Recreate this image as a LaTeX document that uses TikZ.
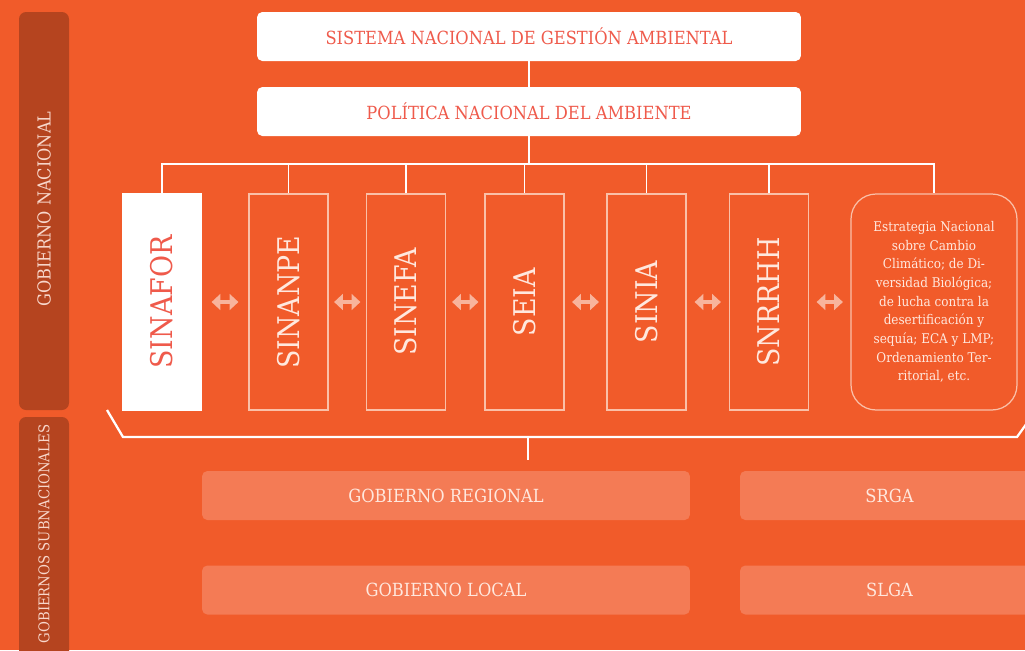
\documentclass[tikz,border=0pt]{standalone}
\usepackage{fontspec}
\setmainfont{DejaVu Serif Condensed}
\usepackage{tikz}
\usetikzlibrary{arrows.meta}

\definecolor{fondo}{HTML}{F15B2A}
\definecolor{oscuro}{HTML}{B5441F}
\definecolor{claro}{HTML}{F47B55}
\definecolor{titulo}{HTML}{EF5A4B}
\definecolor{flechita}{HTML}{F8B49C}
\definecolor{borde}{HTML}{FAC0A8}
\definecolor{letra}{HTML}{FFE8DE}

\begin{document}
\begin{tikzpicture}[x=0.02cm,y=-0.02cm,
    cabeza/.style={fill=white,rounded corners=3pt,minimum width=10.88cm,minimum height=0.98cm,
      text=titulo,font=\fontsize{10.3}{12}\selectfont},
    sistema/.style={draw=borde,line width=0.7pt,minimum width=1.58cm,minimum height=4.32cm,
      text=letra,font=\fontsize{17}{20}\selectfont},
    sub/.style={fill=claro,rounded corners=3pt,minimum height=0.98cm,
      text=letra,font=\fontsize{10.3}{12}\selectfont},
    lado/.style={text=letra!90!oscuro,font=\fontsize{10.2}{12}\selectfont,rotate=90},
    linea/.style={white,line width=1.1pt},
    flecha/.style={flechita,line width=2.8pt,{Triangle[length=5pt,width=9pt]}-{Triangle[length=5pt,width=9pt]}}]
  \useasboundingbox (0,0) rectangle (1025,650);
  \fill[fondo] (0,0) rectangle (1025,650);

  % bandas laterales
  \fill[oscuro,rounded corners=4pt] (19,12) rectangle (69,410);
  \fill[oscuro,rounded corners=4pt] (19,417) rectangle (69,670);
  \node[lado] (gn) at (44,209) {GOBIERNO NACIONAL};
  \node[lado,font=\fontsize{8.4}{10}\selectfont] (gs) at (44,534) {GOBIERNOS SUBNACIONALES};

  % nivel nacional
  \node[cabeza] (sna) at (529,36.5) {SISTEMA NACIONAL DE GESTIÓN AMBIENTAL};
  \node[cabeza] (pna) at (529,111.5) {POLÍTICA NACIONAL DEL AMBIENTE};
  \draw[linea] (sna.south) -- (pna.north);
  \draw[linea] (pna.south) -- ++(0,29);

  \node[sistema,fill=white,draw=white,text=titulo,minimum width=1.56cm] (fo) at (162,302) {\rotatebox{90}{SINAFOR}};
  \node[sistema] (pe) at (288.5,302) {\rotatebox{90}{SINANPE}};
  \node[sistema] (fa) at (406,302) {\rotatebox{90}{SINEFA}};
  \node[sistema] (ei) at (524.5,302) {\rotatebox{90}{SEIA}};
  \node[sistema] (ia) at (646.5,302) {\rotatebox{90}{SINIA}};
  \node[sistema] (rh) at (769,302) {\rotatebox{90}{SNRRHH}};
  \node[sistema,rounded corners=0.5cm,minimum width=3.32cm,align=center,
    font=\fontsize{7.6}{10.6}\selectfont] (est) at (934,302)
    {Estrategia Nacional\\sobre Cambio\\Climático; de Di-\\versidad Biológica;\\de lucha contra la\\desertificación y\\sequía; ECA y LMP;\\Ordenamiento Ter-\\ritorial, etc.};

  \draw[linea] (fo.north) -- ++(0,-29) -| (est.north);
  \foreach \s in {pe,fa,ei,ia,rh}
    \draw[linea] (\s.north) -- ++(0,-29);

  \foreach \a/\b/\c in {fo/pe/0.2cm,pe/fa/0.11cm,fa/ei/0.12cm,ei/ia/0.15cm,ia/rh/0.16cm,rh/est/0.15cm}
    \draw[flecha,shorten <=\c,shorten >=\c] (\a.east) -- (\b.west);

  % llave
  \draw[linea,line width=1.3pt] (107,410) -- (123,437) -- (1017,437) -- (1032,416);
  \draw[linea,line width=1.3pt] (528,437) -- (528,460);

  % nivel subnacional
  \node[sub,minimum width=9.76cm] (gr) at (446,495.5) {GOBIERNO REGIONAL};
  \node[sub,minimum width=9.76cm] (gl) at (446,590) {GOBIERNO LOCAL};
  \node[sub,minimum width=5.98cm] (sr) at (889.5,495.5) {SRGA};
  \node[sub,minimum width=5.98cm] (sl) at (889.5,590) {SLGA};
\end{tikzpicture}
\end{document}
